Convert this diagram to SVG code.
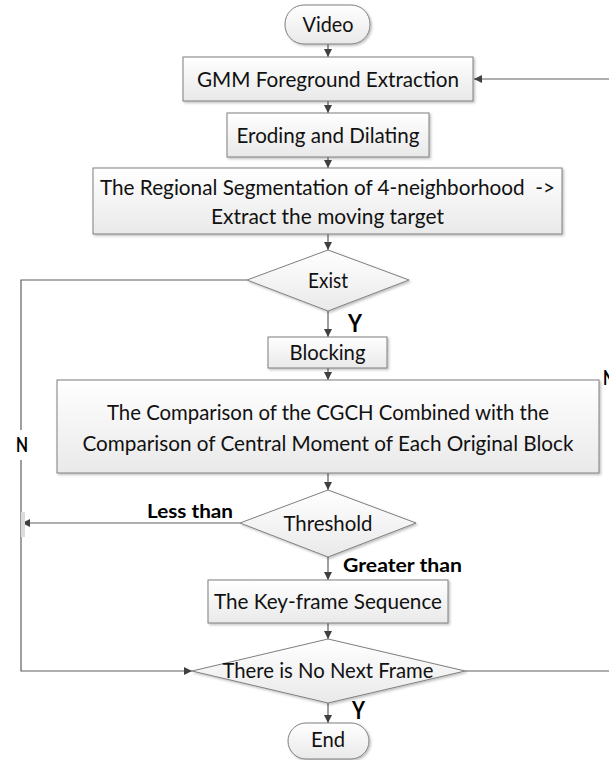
<svg xmlns="http://www.w3.org/2000/svg" width="609" height="760" viewBox="0 0 609 760">
<defs>
<linearGradient id="g" x1="0" y1="0" x2="0" y2="1">
<stop offset="0" stop-color="#ffffff"/>
<stop offset="1" stop-color="#e9e9e9"/>
</linearGradient>
<filter id="sh" x="-5%" y="-5%" width="110%" height="120%">
<feDropShadow dx="1.5" dy="1.5" stdDeviation="1" flood-color="#000" flood-opacity="0.25"/>
</filter>
<marker id="ar" viewBox="0 0 10 10" refX="10" refY="5" markerWidth="9" markerHeight="8" markerUnits="userSpaceOnUse" orient="auto">
<path d="M0,0 L10,5 L0,10 Z" fill="#404040"/>
</marker>
<style>
.n{fill:url(#g);stroke:#7f7f7f;stroke-width:1;filter:url(#sh)}
.t{font-family:Lato,"Liberation Sans",sans-serif;font-size:21px;fill:#111;text-anchor:middle}
.b{font-family:Lato,"Liberation Sans",sans-serif;font-weight:bold;fill:#000}
.c{fill:none;stroke:#5f5f5f;stroke-width:1.2}
.a{marker-end:url(#ar)}
</style>
</defs>
<g id="connectors">
<line class="c a" x1="328" y1="44" x2="328" y2="57"/>
<line class="c a" x1="328" y1="101" x2="328" y2="113"/>
<line class="c a" x1="328" y1="157" x2="328" y2="168"/>
<line class="c a" x1="328" y1="234" x2="328" y2="250"/>
<line class="c a" x1="328" y1="311" x2="328" y2="337"/>
<line class="c a" x1="328" y1="368" x2="328" y2="380"/>
<line class="c a" x1="328" y1="473" x2="328" y2="490"/>
<line class="c a" x1="328" y1="557" x2="328" y2="580"/>
<line class="c a" x1="328" y1="623" x2="328" y2="639"/>
<line class="c a" x1="328" y1="703" x2="328" y2="723"/>
<polyline class="c" points="247,280 21,280 21,430"/>
<polyline class="c a" points="21,460 21,671 192,671"/>
<line class="c a" x1="240" y1="523" x2="22" y2="523"/>
<line class="c" x1="465" y1="671" x2="609" y2="671"/>
<line class="c a" x1="609" y1="79" x2="474" y2="79"/>
<rect x="21" y="512" width="4" height="25" fill="#dcdcdc"/>
</g>
<g id="video">
<rect class="n" x="285" y="5" width="85" height="39" rx="19"/>
<text class="t" x="328" y="32" textLength="51" lengthAdjust="spacingAndGlyphs">Video</text>
</g>
<g id="gmm">
<rect class="n" x="183" y="57" width="290" height="44"/>
<text class="t" x="328" y="87" textLength="262" lengthAdjust="spacingAndGlyphs">GMM Foreground Extraction</text>
</g>
<g id="eroding">
<rect class="n" x="227" y="113" width="202" height="44"/>
<text class="t" x="328" y="143" textLength="183" lengthAdjust="spacingAndGlyphs">Eroding and Dilating</text>
</g>
<g id="regional">
<rect class="n" x="93" y="168" width="469" height="66"/>
<text class="t" x="327.5" y="195" textLength="455" lengthAdjust="spacingAndGlyphs" xml:space="preserve">The Regional Segmentation of 4-neighborhood  -&gt;</text>
<text class="t" x="327.5" y="224" textLength="233" lengthAdjust="spacingAndGlyphs">Extract the moving target</text>
</g>
<g id="exist">
<polygon class="n" points="328,250 409,280 328,311 247,280"/>
<text class="t" x="328" y="288" textLength="40" lengthAdjust="spacingAndGlyphs">Exist</text>
</g>
<g id="blocking">
<rect class="n" x="268" y="337" width="119" height="31"/>
<text class="t" x="327.5" y="360" textLength="76" lengthAdjust="spacingAndGlyphs">Blocking</text>
</g>
<g id="comparison">
<rect class="n" x="57" y="380" width="542" height="93"/>
<text class="t" x="328" y="420" textLength="442" lengthAdjust="spacingAndGlyphs">The Comparison of the CGCH Combined with the</text>
<text class="t" x="328" y="451" textLength="491" lengthAdjust="spacingAndGlyphs">Comparison of Central Moment of Each Original Block</text>
</g>
<g id="threshold">
<polygon class="n" points="328,490 416,523 328,557 240,523"/>
<text class="t" x="328" y="531" textLength="89" lengthAdjust="spacingAndGlyphs">Threshold</text>
</g>
<g id="keyframe">
<rect class="n" x="208" y="580" width="240" height="43"/>
<text class="t" x="328" y="609" textLength="228" lengthAdjust="spacingAndGlyphs">The Key-frame Sequence</text>
</g>
<g id="nextframe">
<polygon class="n" points="328,639 465,671 328,703 192,671"/>
<text class="t" x="328" y="678" textLength="211" lengthAdjust="spacingAndGlyphs">There is No Next Frame</text>
</g>
<g id="end">
<rect class="n" x="288" y="723" width="81" height="36" rx="18"/>
<text class="t" x="328" y="747" textLength="34" lengthAdjust="spacingAndGlyphs">End</text>
</g>
<g id="labels">
<text class="b" x="348" y="332" font-size="25" textLength="14" lengthAdjust="spacingAndGlyphs">Y</text>
<text class="b" x="352" y="719" font-size="25" textLength="13" lengthAdjust="spacingAndGlyphs">Y</text>
<text class="b" x="16" y="452" font-size="21" textLength="12" lengthAdjust="spacingAndGlyphs">N</text>
<text class="b" x="603" y="385" font-size="21" textLength="12" lengthAdjust="spacingAndGlyphs">N</text>
<text class="b" x="147" y="518" font-size="19" textLength="86" lengthAdjust="spacingAndGlyphs">Less than</text>
<text class="b" x="343" y="572" font-size="19" textLength="119" lengthAdjust="spacingAndGlyphs">Greater than</text>
</g>
</svg>
